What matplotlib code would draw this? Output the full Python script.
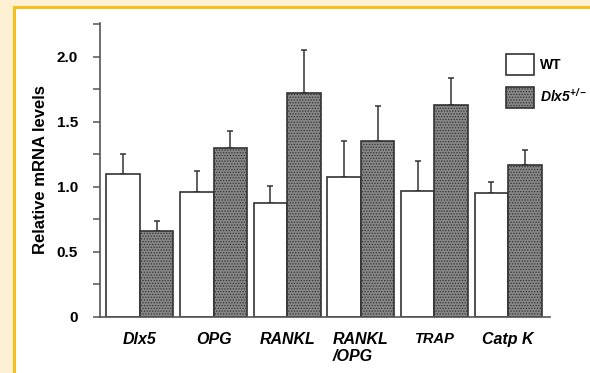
import numpy as np
import matplotlib.pyplot as plt
from matplotlib.patches import Rectangle, Patch

genes = ["Dlx5", "OPG", "RANKL", "RANKL\n/OPG", "TRAP", "Catp K"]
wt_mean = [1.10, 0.96, 0.88, 1.08, 0.97, 0.95]
wt_err = [0.15, 0.16, 0.13, 0.27, 0.23, 0.09]
het_mean = [0.66, 1.30, 1.72, 1.35, 1.63, 1.17]
het_err = [0.08, 0.13, 0.33, 0.27, 0.21, 0.11]

plt.rcParams["font.family"] = ["Liberation Sans", "DejaVu Sans"]
plt.rcParams["mathtext.fontset"] = "custom"
plt.rcParams["mathtext.it"] = "Liberation Sans:bold:italic"
plt.rcParams["mathtext.rm"] = "Liberation Sans:bold:italic"
plt.rcParams["hatch.linewidth"] = 0.6
plt.rcParams["hatch.color"] = "#505050"

fig = plt.figure(figsize=(5.9, 3.73), dpi=100)
fig.patch.set_facecolor("#fdf0d3")
fig.patches.append(Rectangle((13.5 / 590, -0.05), 1.1, 1 - 6.5 / 373 + 0.05,
                             transform=fig.transFigure, facecolor="white",
                             edgecolor="#f5bf1f", linewidth=2.2, zorder=-5))

ax = fig.add_axes([100 / 590, 1 - 317 / 373, 450 / 590, 294 / 373])
ax.set_facecolor("none")

x = np.arange(len(genes))
w = 0.455
edge = "#333333"
grey = "#878787"
ax.bar(x - w / 2, wt_mean, w, color="white", edgecolor=edge, linewidth=1.2, zorder=2)
ax.bar(x + w / 2, het_mean, w, color=grey, edgecolor=edge, linewidth=1.2,
       hatch="......", zorder=2)
ax.errorbar(x - w / 2, wt_mean, yerr=[np.zeros(len(x)), wt_err], fmt="none",
            ecolor=edge, elinewidth=1.1, capsize=2.5, capthick=1.1, zorder=1)
ax.errorbar(x + w / 2, het_mean, yerr=[np.zeros(len(x)), het_err], fmt="none",
            ecolor=edge, elinewidth=1.1, capsize=2.5, capthick=1.1, zorder=1)

ax.set_xlim(-0.543, 5.57)
ax.set_ylim(0, 2.26)
ax.set_yticks([0, 0.5, 1.0, 1.5, 2.0])
ax.set_yticklabels(["0", "0.5", "1.0", "1.5", "2.0"], fontweight="bold", fontsize=11)
ax.set_yticks(np.arange(0.25, 2.26, 0.5), minor=True)
ax.tick_params(axis="y", which="both", length=5, width=1.1, color="#555555", pad=11)
ax.set_xticks(x)
ax.set_xticklabels(genes, fontsize=11.5, fontweight="bold", fontstyle="italic",
                   linespacing=1.15)
for lab in ax.get_xticklabels():
    lab.set_multialignment("left")
    if lab.get_text() == "TRAP":
        lab.set_fontsize(10.5)
ax.tick_params(axis="x", length=0, pad=11)

for s in ["top", "right"]:
    ax.spines[s].set_visible(False)
for s in ["left", "bottom"]:
    ax.spines[s].set_linewidth(1.2)
    ax.spines[s].set_color("#555555")

ax.set_ylabel("Relative mRNA levels", fontsize=12, fontweight="bold", labelpad=6)

handles = [Patch(facecolor="white", edgecolor=edge, linewidth=1.2),
           Patch(facecolor=grey, edgecolor=edge, linewidth=1.2, hatch="......")]
ax.legend(handles, ["WT", r"$\mathit{Dlx5}^{+/-}$"], loc="upper left",
          bbox_to_anchor=(499 / 590, 1 - 47 / 373), bbox_transform=fig.transFigure,
          frameon=False, borderpad=0, handlelength=2.0, handleheight=2.0,
          labelspacing=0.8, handletextpad=0.45,
          prop={"weight": "bold", "size": 10})

fig.savefig("out.png", dpi=100, facecolor=fig.get_facecolor())
